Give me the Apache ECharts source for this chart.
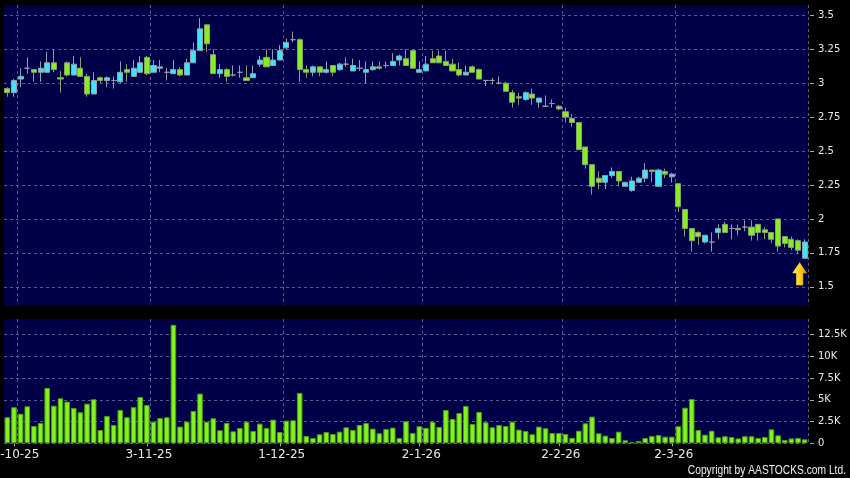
<!DOCTYPE html>
<html><head><meta charset="utf-8">
<script src="https://cdn.jsdelivr.net/npm/echarts@6/dist/echarts.min.js"></script>
<style>html,body{margin:0;padding:0;background:#000;}#c{width:850px;height:478px;}</style>
</head><body><div id="c"></div>
<script>
const dates = ['30-9-25',
'2-10-25','3-10-25','6-10-25','8-10-25','9-10-25','10-10-25','13-10-25','14-10-25','15-10-25','16-10-25','17-10-25','20-10-25','21-10-25','22-10-25','23-10-25','24-10-25','27-10-25','28-10-25','30-10-25','31-10-25',
'3-11-25','4-11-25','5-11-25','6-11-25','7-11-25','10-11-25','11-11-25','12-11-25','13-11-25','14-11-25','17-11-25','18-11-25','19-11-25','20-11-25','21-11-25','24-11-25','25-11-25','26-11-25','27-11-25','28-11-25',
'1-12-25','2-12-25','3-12-25','4-12-25','5-12-25','8-12-25','9-12-25','10-12-25','11-12-25','12-12-25','15-12-25','16-12-25','17-12-25','18-12-25','19-12-25','22-12-25','23-12-25','24-12-25','29-12-25','30-12-25','31-12-25',
'2-1-26','5-1-26','6-1-26','7-1-26','8-1-26','9-1-26','12-1-26','13-1-26','14-1-26','15-1-26','16-1-26','19-1-26','20-1-26','21-1-26','22-1-26','23-1-26','26-1-26','27-1-26','28-1-26','29-1-26','30-1-26',
'2-2-26','3-2-26','4-2-26','5-2-26','6-2-26','9-2-26','10-2-26','11-2-26','12-2-26','13-2-26','16-2-26','20-2-26','23-2-26','24-2-26','25-2-26','26-2-26','27-2-26',
'2-3-26','3-3-26','4-3-26','5-3-26','6-3-26','9-3-26','10-3-26','11-3-26','12-3-26','13-3-26','16-3-26','17-3-26','18-3-26','19-3-26','20-3-26','23-3-26','24-3-26','25-3-26','26-3-26','27-3-26','30-3-26'];

const opens = [2.96,2.93,3.03,3.11,3.10,3.08,3.08,3.15,3.04,3.15,3.06,3.11,3.05,2.92,3.04,3.02,3.02,3.01,3.10,3.05,
3.08,3.19,3.08,3.11,3.08,3.07,3.10,3.06,3.15,3.24,3.43,3.21,3.07,3.10,3.06,3.08,3.04,3.04,3.14,3.19,
3.13,3.17,3.26,3.32,3.32,3.10,3.08,3.12,3.08,3.13,3.10,3.14,3.09,3.11,3.08,3.10,3.12,3.13,3.13,3.17,
3.18,3.24,3.08,3.09,3.18,3.20,3.16,3.14,3.10,3.06,3.12,3.10,3.02,3.02,3.00,3.00,2.93,2.90,2.88,2.92,
2.86,2.83,2.85,2.83,2.79,2.74,2.71,2.53,2.40,2.30,2.27,2.32,2.35,2.24,2.21,2.27,2.30,2.36,2.24,2.35,
2.31,2.26,2.07,1.93,1.90,1.83,1.83,1.90,1.96,1.93,1.93,1.94,1.94,1.96,1.92,1.90,2.00,1.87,1.85,1.84,1.71];
const closes = [2.93,3.02,3.05,3.11,3.08,3.11,3.15,3.10,3.03,3.06,3.14,3.05,2.92,3.02,3.02,3.04,3.02,3.08,3.08,3.11,
3.15,3.07,3.13,3.12,3.08,3.10,3.06,3.15,3.24,3.40,3.29,3.07,3.10,3.05,3.06,3.08,3.02,3.07,3.17,3.12,
3.17,3.24,3.30,3.32,3.10,3.08,3.12,3.08,3.10,3.08,3.14,3.14,3.13,3.11,3.10,3.12,3.11,3.13,3.16,3.20,
3.13,3.11,3.10,3.14,3.15,3.15,3.13,3.09,3.06,3.08,3.08,3.03,3.02,3.02,3.00,2.94,2.86,2.89,2.93,2.89,
2.89,2.83,2.85,2.81,2.75,2.71,2.51,2.40,2.24,2.27,2.32,2.35,2.28,2.27,2.28,2.30,2.36,2.35,2.36,2.33,
2.33,2.09,1.93,1.84,1.87,1.88,1.83,1.93,1.90,1.93,1.92,1.94,1.88,1.90,1.90,1.85,1.80,1.82,1.79,1.77,1.83];
const lows = [2.90,2.90,2.97,3.07,3.01,3.01,3.08,3.08,2.93,3.05,3.06,3.05,2.90,2.92,3.00,2.97,2.96,3.00,3.01,3.05,
3.08,3.06,3.08,3.08,3.02,3.07,3.05,3.06,3.15,3.24,3.23,3.07,3.04,3.01,3.05,3.04,3.02,3.04,3.12,3.12,
3.13,3.17,3.25,3.30,3.01,3.04,3.05,3.05,3.07,3.05,3.09,3.12,3.09,3.09,3.00,3.09,3.10,3.11,3.13,3.13,
3.13,3.11,3.08,3.09,3.15,3.15,3.13,3.09,3.05,3.06,3.08,3.03,2.98,2.99,2.99,2.94,2.82,2.84,2.87,2.84,
2.82,2.83,2.82,2.80,2.71,2.68,2.51,2.37,2.18,2.22,2.22,2.30,2.24,2.24,2.20,2.27,2.27,2.27,2.24,2.30,
2.27,2.05,1.87,1.76,1.81,1.82,1.76,1.85,1.90,1.85,1.88,1.91,1.84,1.84,1.85,1.82,1.76,1.79,1.77,1.74,1.71];
const highs = [2.97,3.03,3.11,3.19,3.10,3.16,3.23,3.25,3.09,3.16,3.20,3.19,3.07,3.08,3.05,3.05,3.05,3.16,3.14,3.17,
3.20,3.20,3.17,3.17,3.11,3.17,3.12,3.18,3.30,3.48,3.43,3.25,3.14,3.11,3.13,3.13,3.13,3.13,3.20,3.25,
3.25,3.28,3.33,3.38,3.33,3.13,3.13,3.12,3.16,3.13,3.15,3.19,3.18,3.17,3.16,3.16,3.16,3.16,3.22,3.21,
3.25,3.24,3.16,3.20,3.24,3.24,3.24,3.18,3.15,3.13,3.13,3.11,3.02,3.04,3.05,3.01,2.95,2.93,2.94,2.96,
2.89,2.91,2.88,2.84,2.82,2.77,2.71,2.53,2.40,2.35,2.32,2.38,2.35,2.27,2.31,2.31,2.41,2.36,2.37,2.37,
2.34,2.26,2.07,1.93,1.91,1.88,1.90,1.96,1.98,1.96,1.96,1.99,1.99,1.96,1.94,1.90,2.00,1.87,1.87,1.85,1.85];
// volume in thousands of shares
const volumes = [3.0,4.15,3.4,4.26,2.0,2.34,6.37,4.33,5.18,4.8,4.07,3.57,4.56,5.07,1.53,3.15,2.11,3.84,3.0,4.15,
5.33,4.41,2.49,2.91,3.0,13.63,1.92,2.49,3.72,5.72,2.49,2.88,1.5,2.34,1.38,1.76,2.49,1.42,2.26,1.76,
2.72,1.3,2.61,2.65,5.8,0.84,0.61,1.04,1.3,1.07,1.34,1.84,1.53,2.11,2.34,1.69,1.15,1.65,1.8,0.61,
2.53,1.19,1.96,1.77,2.49,1.88,3.84,2.8,3.49,4.3,2.22,3.61,2.42,1.84,2.11,1.99,2.49,1.57,1.42,1.04,
1.92,1.73,1.19,1.19,1.07,0.63,1.45,2.3,3.07,1.15,0.88,0.61,1.34,0.35,0.12,0.27,0.61,0.84,0.96,0.76,
0.76,1.96,4.1,5.1,1.53,0.99,1.45,0.69,0.81,0.73,0.56,0.81,0.81,0.61,0.73,1.61,0.92,0.38,0.56,0.61,0.46];
const priceTicks = [1.5,1.75,2,2.25,2.5,2.75,3,3.25,3.5];
const volumeTicks = [0,2.5,5,7.5,10,12.5];
const labelDates = ['2-10-25','3-11-25','1-12-25','2-1-26','2-2-26','2-3-26'];
const copyright = 'Copyright by AASTOCKS.com Ltd.';

const labelIdx = labelDates.map(d => dates.indexOf(d));
const GREEN = '#84f020', CYAN = '#3ce6f2', GRAY = '#9a9aa6';
const gridColor = '#5a5a92';

const candleData = dates.map((d, i) => {
  const item = { value: [opens[i], closes[i], lows[i], highs[i]] };
  if (opens[i] === closes[i]) item.itemStyle = { color: GRAY, color0: GRAY, borderColor: GRAY, borderColor0: GRAY };
  return item;
});

const chart = echarts.init(document.getElementById('c'), null, { renderer: 'canvas' });
const font = 'DejaVu Sans';
chart.setOption({
  animation: false,
  backgroundColor: '#000',
  grid: [
    { left: 4, right: 42, top: 5, height: 300.5, show: true, backgroundColor: '#000048', borderWidth: 0, outerBoundsMode: 'none', containLabel: false },
    { left: 4, right: 42, top: 319, height: 124.3, show: true, backgroundColor: '#000048', borderWidth: 0, outerBoundsMode: 'none', containLabel: false }
  ],
  xAxis: [
    { type: 'category', gridIndex: 0, data: dates, boundaryGap: true,
      axisLine: { show: false }, axisTick: { show: false }, axisLabel: { show: false },
      splitLine: { show: true, interval: (i) => labelIdx.includes(i - 1), lineStyle: { color: gridColor, type: [3, 3], width: 1 } } },
    { type: 'category', gridIndex: 1, data: dates, boundaryGap: true,
      axisLine: { show: false },
      axisTick: { show: true, alignWithLabel: true, interval: (i) => labelIdx.includes(i), length: 3, lineStyle: { color: '#aaa' } },
      axisLabel: { show: true, interval: (i) => labelIdx.includes(i), hideOverlap: false, color: '#e8e8e8', fontFamily: font, fontSize: 12, margin: 6, padding: [0, 0, 0, 4] },
      splitLine: { show: true, interval: (i) => labelIdx.includes(i - 1), lineStyle: { color: gridColor, type: [3, 3], width: 1 } } }
  ],
  yAxis: [
    { type: 'value', gridIndex: 0, position: 'right', min: 1.3625, max: 3.5757, offset: 2,
      axisLine: { show: false },
      axisTick: { show: true, length: 4, customValues: priceTicks, lineStyle: { color: '#aaa' } },
      axisLabel: { color: '#e8e8e8', fontFamily: font, fontSize: 10, margin: 8, customValues: priceTicks, formatter: v => String(v) },
      splitLine: { show: true, lineStyle: { color: gridColor, type: [3, 3], width: 1 } } },
    { type: 'value', gridIndex: 1, position: 'right', min: 0, max: 14.3, offset: 2,
      axisLine: { show: false },
      axisTick: { show: true, length: 4, customValues: volumeTicks, lineStyle: { color: '#aaa' } },
      axisLabel: { color: '#e8e8e8', fontFamily: font, fontSize: 10, margin: 8, customValues: volumeTicks, formatter: v => v === 0 ? '0' : v + 'K' },
      splitLine: { show: true, lineStyle: { color: gridColor, type: [3, 3], width: 1 } } }
  ],
  series: [
    { type: 'candlestick', xAxisIndex: 0, yAxisIndex: 0, data: candleData, barWidth: '84%',
      itemStyle: { color: CYAN, color0: GREEN, borderColor: '#8aa4b0', borderColor0: '#86a070', borderWidth: 1 },
      markPoint: {
        silent: true,
        symbol: 'path://M7.5,0 L15,11 L11,11 L11,23 L4,23 L4,11 L0,11 Z',
        symbolSize: [15, 23], symbolOffset: [-5, 0], label: { show: false },
        itemStyle: { color: new echarts.graphic.LinearGradient(0, 0, 1, 0, [
          { offset: 0, color: '#ffe45a' }, { offset: 0.5, color: '#ffd21e' }, { offset: 1, color: '#c88400' }]) },
        data: [{ coord: [dates.length - 1, 1.596] }]
      } },
    { type: 'bar', xAxisIndex: 1, yAxisIndex: 1, data: volumes, barWidth: '84%',
      itemStyle: { color: '#80f41c', borderColor: '#4c9a12', borderWidth: 1 } }
  ],
  graphic: [
    { type: 'text', x: 846, y: 471, scaleX: 0.82, silent: true,
      style: { text: copyright, fill: '#f0f0f0', align: 'right', verticalAlign: 'middle', font: '12.5px "Liberation Sans", sans-serif' } }
  ]
});
</script></body></html>
